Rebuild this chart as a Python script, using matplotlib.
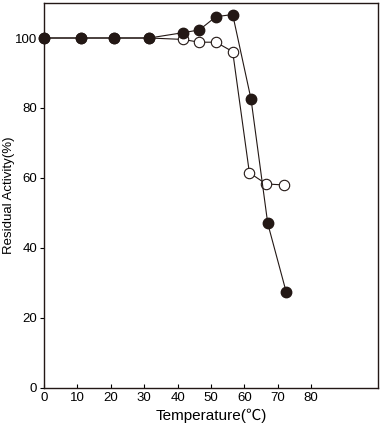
import matplotlib
matplotlib.use('Agg')
import matplotlib.pyplot as plt

plt.rcParams['font.family'] = ['Liberation Sans', 'Noto Sans CJK JP', 'DejaVu Sans']

# 数据
temp_filled = [0, 11, 21, 31.5, 41.5, 46.5, 51.5, 56.5, 62, 67, 72.5]
act_filled = [100, 100, 100, 100, 101.5, 102.3, 106.1, 106.7, 82.5, 47, 27.5]
temp_open = [0, 11, 21, 31.5, 41.5, 46.5, 51.5, 56.5, 61.5, 66.5, 72]
act_open = [100, 100, 100, 100, 99.6, 98.8, 98.8, 96.1, 61.5, 58.3, 58.0]

xticks = [0, 10, 20, 30, 40, 50, 60, 70, 80]
yticks = [0, 20, 40, 60, 80, 100]

fig = plt.figure(figsize=(3.81, 4.29), dpi=100)
ax = fig.add_axes([0.1155, 0.0956, 0.8765, 0.8974])

ax.plot(temp_open, act_open, color='#231815', linewidth=0.8, marker='o',
        markersize=7.5, markerfacecolor='white', markeredgecolor='#231815',
        markeredgewidth=0.8, zorder=2, clip_on=False)
ax.plot(temp_filled, act_filled, color='#231815', linewidth=0.8, marker='o',
        markersize=7.5, markerfacecolor='#231815', markeredgecolor='#231815',
        zorder=3, clip_on=False)

ax.set_xlim(0, 100)
ax.set_ylim(0, 110)
ax.set_xticks(xticks)
ax.set_yticks(yticks)
ax.tick_params(axis='x', direction='in', length=3, width=0.8, labelsize=9.5, pad=3)
ax.tick_params(axis='y', direction='out', length=3, width=0.8, labelsize=9.5, pad=2)
for s in ax.spines.values():
    s.set_linewidth(1.0)
    s.set_color('#231815')

ax.set_xlabel('Temperature(℃)', fontsize=11, labelpad=3)
ax.set_ylabel('Residual Activity(%)', fontsize=9.5)
ax.yaxis.set_label_coords(-0.088, 0.5)

plt.savefig('out.png', dpi=100)
